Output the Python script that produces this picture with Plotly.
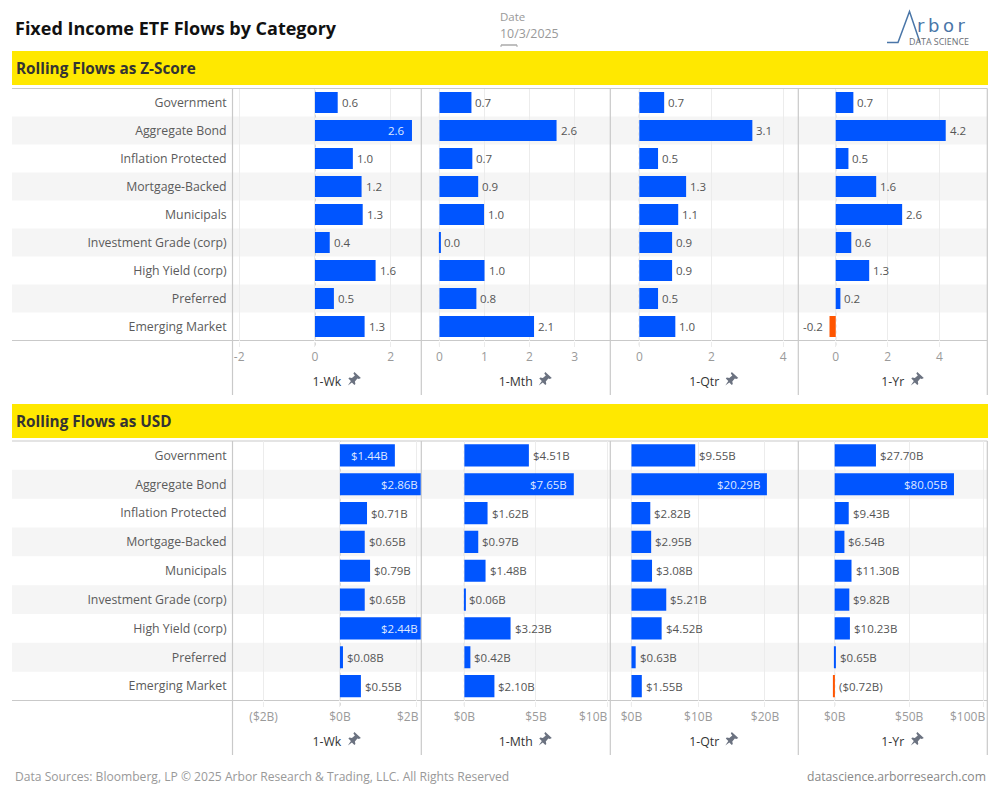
import plotly.graph_objects as go

categories = ["Government", "Aggregate Bond", "Inflation Protected", "Mortgage-Backed", "Municipals",
              "Investment Grade (corp)", "High Yield (corp)", "Preferred", "Emerging Market"]
periods = ["1-Wk", "1-Mth", "1-Qtr", "1-Yr"]

z_wk = [0.60, 2.56, 1.00, 1.23, 1.26, 0.39, 1.60, 0.50, 1.31]
z_mth = [0.71, 2.60, 0.73, 0.86, 0.99, 0.02, 1.00, 0.82, 2.10]
z_qtr = [0.69, 3.14, 0.52, 1.30, 1.08, 0.91, 0.91, 0.52, 1.00]
z_yr = [0.68, 4.24, 0.49, 1.56, 2.56, 0.60, 1.29, 0.18, -0.24]

usd_wk = [1.44, 2.86, 0.71, 0.65, 0.79, 0.65, 2.44, 0.08, 0.55]
usd_mth = [4.51, 7.65, 1.62, 0.97, 1.48, 0.06, 3.23, 0.42, 2.10]
usd_qtr = [9.55, 20.29, 2.82, 2.95, 3.08, 5.21, 4.52, 0.63, 1.55]
usd_yr = [27.70, 80.05, 9.43, 6.54, 11.30, 9.82, 10.23, 0.65, -0.72]

z_ticks = [[-2, 0, 2], [0, 1, 2, 3], [0, 2, 4], [0, 2, 4]]
z_tick_text = [["-2", "0", "2"], ["0", "1", "2", "3"], ["0", "2", "4"], ["0", "2", "4"]]
usd_ticks = [[-2, 0, 2], [0, 5, 10], [0, 10, 20], [0, 50, 100]]
usd_tick_text = [["($2B)", "$0B", "$2B"], ["$0B", "$5B", "$10B"], ["$0B", "$10B", "$20B"], ["$0B", "$50B", "$100B"]]

z_ranges = [[-2.16, 2.79], [-0.39, 3.78], [-0.79, 4.40], [-1.42, 5.82]]
usd_ranges = [[-2.80, 2.117], [-2.97, 10.16], [-3.08, 24.9], [-24.0, 102.0]]
z_inside_from = [2.3, 9, 9, 9]
usd_inside_from = [1.2, 6.5, 18, 70]

BLUE, ORANGE, YELLOW = "#0055FF", "#FF5500", "#FFE800"
FONT = "Open Sans"
TICK_FONT = dict(family=FONT, size=12, color="#9a9a9a")
W, H = 1000, 800
edges = [232.5, 421.3, 610.3, 798.3, 987.3]
pin_offsets = [27.5, 29.5, 27.5, 24.5]
LEFT = 12


def px(x):
    return x / W


def py(y):
    return 1 - y / H


def fmt_z(v):
    return f"{v:.1f}"


def fmt_usd(v):
    return f"${v:.2f}B" if v >= 0 else f"(${-v:.2f}B)"


fig = go.Figure()
shapes, annos = [], []


def line(x0, y0, x1, y1, color="#c9c9c9", width=1.2):
    shapes.append(dict(type="line", xref="paper", yref="paper", x0=px(x0), x1=px(x1), y0=py(y0), y1=py(y1),
                       line=dict(color=color, width=width), layer="below"))


def rect(x0, y0, x1, y1, color):
    shapes.append(dict(type="rect", xref="paper", yref="paper", x0=px(x0), x1=px(x1), y0=py(y0), y1=py(y1),
                       fillcolor=color, line=dict(width=0), layer="below"))


def text(x, y, s, size, color, anchor="left", bold=False, family=FONT, **kw):
    annos.append(dict(xref="paper", yref="paper", x=px(x), y=py(y), text=f"<b>{s}</b>" if bold else s,
                      showarrow=False, xanchor=anchor, yanchor="middle", borderpad=0,
                      font=dict(family=family, size=size, color=color), **kw))


def pin(cx, cy):
    # small push-pin glyph
    pts = [(0, -7), (6.5, -1), (4.5, 0), (3, -0.5), (0.5, 2.5), (1, 5), (0, 6), (-2.5, 3.5), (-6.5, 6.5), (-3.5, 2),
           (-6, -0.5), (-5, -1.5), (-2.5, -1), (0.5, -3.5), (-1, -5.5)]
    d = "M" + " L".join(f"{px(cx + a)},{py(cy + b)}" for a, b in pts) + " Z"
    shapes.append(dict(type="path", xref="paper", yref="paper", path=d, fillcolor="#6b7280", line=dict(width=0)))


def panel_row(series, ranges, ticks, tick_text, inside_from, top, bottom, axis_bottom, yname, first_ax, fmt, gap):
    row_h = (bottom - top) / 9
    for i in range(1, 9, 2):
        rect(LEFT, top + i * row_h, edges[-1], top + (i + 1) * row_h, "#f5f5f5")
    line(LEFT, top, edges[-1], top)
    line(LEFT, bottom, edges[-1], bottom)
    for e in edges:
        line(e, top, e, axis_bottom)
    y_layout = "yaxis" + ("" if yname == "y" else yname[1:])
    fig.layout[y_layout] = dict(domain=[py(bottom), py(top)], anchor=f"x{first_ax if first_ax > 1 else ''}",
                                type="category", categoryorder="array", categoryarray=categories,
                                range=[8.5, -0.5], showgrid=False, zeroline=False, showline=False,
                                ticks="outside", ticklen=3, tickcolor="rgba(0,0,0,0)",
                                tickfont=dict(family=FONT, size=12.3, color="#5b5b5b"))
    for p, vals in enumerate(series):
        an = first_ax + p
        xname = f"x{an if an > 1 else ''}"
        rng = ranges[p]
        fig.add_trace(go.Bar(y=categories, x=vals, orientation="h", xaxis=xname, yaxis=yname,
                             marker=dict(color=[BLUE if v >= 0 else ORANGE for v in vals], line=dict(width=0)),
                             width=gap, hoverinfo="skip", showlegend=False))
        # the last label of a panel is pulled back inside the panel when its tick sits close to the edge
        axis_labels = []
        for tv, tt in zip(ticks[p], tick_text[p]):
            tick_px = edges[p] + (tv - rng[0]) / (rng[1] - rng[0]) * (edges[p + 1] - edges[p])
            half = len(tt) * 3.6
            if tick_px + half > edges[p + 1]:
                axis_labels.append("")
                annos.append(dict(xref=xname, yref="paper", x=tv, y=py(bottom + 15.5), text=tt, showarrow=False,
                                  xanchor="right", yanchor="middle", borderpad=0,
                                  xshift=edges[p + 1] - 0.7 - tick_px,
                                  font=TICK_FONT))
            else:
                axis_labels.append(tt)
        x_layout = "xaxis" + ("" if an == 1 else str(an))
        fig.layout[x_layout] = dict(domain=[px(edges[p] + 0.6), px(edges[p + 1] - 0.6)], anchor=yname, range=rng,
                                    tickmode="array", tickvals=ticks[p], ticktext=axis_labels,
                                    showgrid=True, gridcolor="#ececec", gridwidth=1, zeroline=False, showline=False,
                                    ticks="outside", ticklen=5, tickcolor="#ececec", tickwidth=1,
                                    tickfont=TICK_FONT,
                                    title=dict(text=periods[p], standoff=13,
                                               font=dict(family=FONT, size=12.3, color="#333333")))
        # dotted zero line
        shapes.append(dict(type="line", xref=xname, yref=f"{yname} domain", x0=0, x1=0, y0=-0.02, y1=1,
                           line=dict(color="#aaaaaa", width=1, dash="dot"), layer="below"))
        mid = (edges[p] + edges[p + 1]) / 2
        pin(mid + pin_offsets[p], axis_bottom - 16)
        for c, v in zip(categories, vals):
            lab = fmt(v)
            if v >= inside_from[p]:
                xa = min(v, rng[1])
                shift = -5 if v <= rng[1] else -1
                annos.append(dict(xref=xname, yref=yname, x=xa, y=c, text=lab, showarrow=False, xanchor="right",
                                  xshift=shift, font=dict(family=FONT, size=11.5, color="#dfe8ff")))
            elif v < 0 and fmt is fmt_z:
                annos.append(dict(xref=xname, yref=yname, x=v, y=c, text=lab, showarrow=False, xanchor="right",
                                  xshift=-5, font=dict(family=FONT, size=11.5, color="#555555")))
            else:
                annos.append(dict(xref=xname, yref=yname, x=max(v, 0), y=c, text=lab, showarrow=False, xanchor="left",
                                  xshift=2, font=dict(family=FONT, size=11.5, color="#555555")))


# header bands
rect(LEFT, 51, 988, 85, YELLOW)
rect(LEFT, 404, 988, 438, YELLOW)
text(14, 28, "Fixed Income ETF Flows by Category", 18, "#111111", bold=True)
text(15, 68, "Rolling Flows as Z-Score", 15.3, "#333333", bold=True)
text(15, 421, "Rolling Flows as USD", 15.3, "#333333", bold=True)

panel_row([z_wk, z_mth, z_qtr, z_yr], z_ranges, z_ticks, z_tick_text, z_inside_from, 88.5, 340.5, 395, "y", 1, fmt_z, 0.75)
panel_row([usd_wk, usd_mth, usd_qtr, usd_yr], usd_ranges, usd_ticks, usd_tick_text, usd_inside_from,
          441, 700.5, 755, "y2", 5, fmt_usd, 0.77)

# date control
text(499, 16, "Date", 11.5, "#999999")
text(499, 33, "10/3/2025", 12.4, "#999999")
line(501, 45, 517, 45, "#aaaaaa", 1.5)
line(501, 45, 501, 47, "#aaaaaa", 1)
line(517, 45, 517, 47, "#aaaaaa", 1)

# logo
shapes.append(dict(type="path", xref="paper", yref="paper", layer="above",
                   path="M" + " L".join(f"{px(a)},{py(b)}" for a, b in
                                        [(887, 42.5), (898, 42.5), (909.5, 11.5), (920, 42.5)]),
                   line=dict(color="#4a76a8", width=1.5)))
text(916, 24.5, "r\u2009b\u2009o\u2009r", 18, "#4a76a8", family="DejaVu Sans", height=14)
text(908, 41.5, "DATA SCIENCE", 8.9, "#6b6f75", height=9)

# footer
text(14, 776.5, "Data Sources: Bloomberg, LP © 2025 Arbor Research &amp; Trading, LLC. All Rights Reserved", 12.1, "#999999")
text(987, 776.5, "datascience.arborresearch.com", 12.2, "#888888", anchor="right")

fig.update_layout(width=W, height=H, margin=dict(l=0, r=0, t=0, b=0, autoexpand=False), paper_bgcolor="white",
                  plot_bgcolor="rgba(0,0,0,0)", barmode="overlay", showlegend=False,
                  shapes=shapes, annotations=annos, font=dict(family=FONT))
fig.write_html("out.html", config={"displayModeBar": False},
               post_script="document.body.style.margin='0';document.body.style.overflow='hidden';")
